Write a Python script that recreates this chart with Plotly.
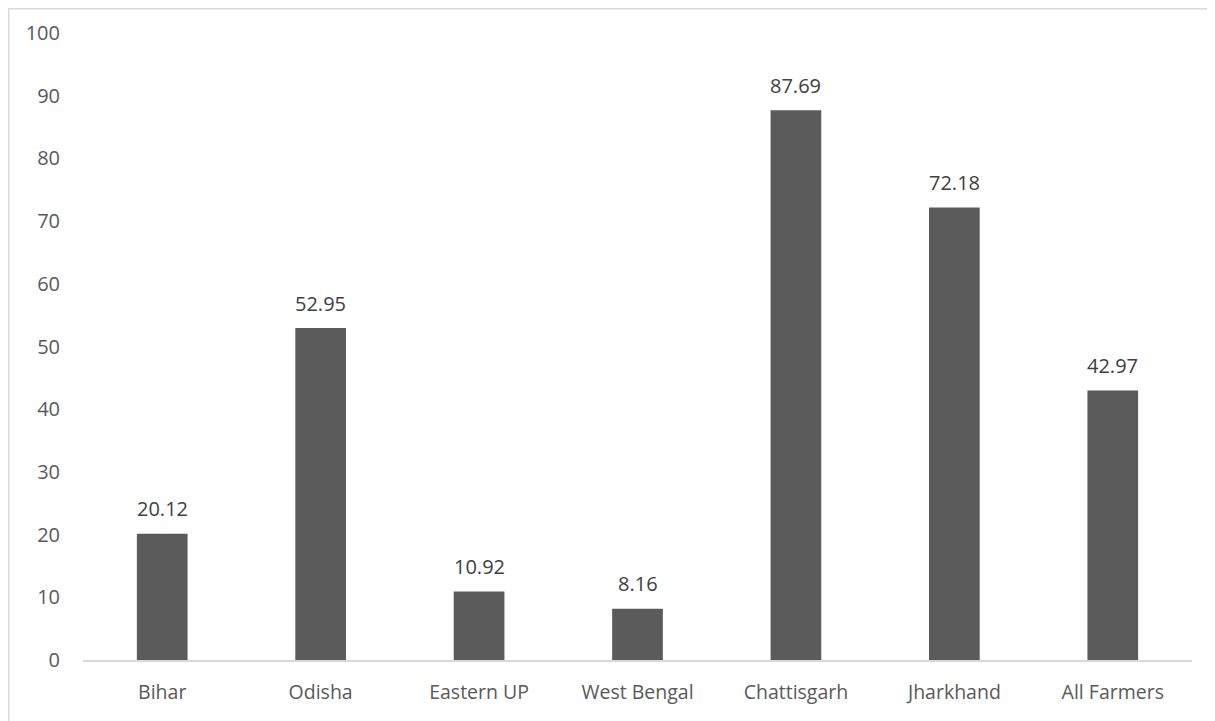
import plotly.graph_objects as go

categories = ["Bihar", "Odisha", "Eastern UP", "West Bengal", "Chattisgarh", "Jharkhand", "All Farmers"]
values = [20.12, 52.95, 10.92, 8.16, 87.69, 72.18, 42.97]
y_ticks = [0, 10, 20, 30, 40, 50, 60, 70, 80, 90, 100]

FONT = "Open Sans"
fig = go.Figure(go.Bar(
    x=categories, y=values,
    marker=dict(color="#5b5b5b", line=dict(width=0)),
    cliponaxis=False,
))

for c, v in zip(categories, values):
    fig.add_annotation(x=c, y=v, text=f"{v:.2f}", showarrow=False,
                       yanchor="middle", yshift=25,
                       font=dict(family=FONT, size=20, color="#404040"))

# page has an 8px body margin; size the figure to fill the rest of the window
W, H = 1207, 713
L, R, T, B = 75, 23, 25, 61
fig.update_layout(
    width=W, height=H,
    margin=dict(l=L, r=R, t=T, b=B),
    paper_bgcolor="white", plot_bgcolor="white",
    bargap=0.68,
    showlegend=False,
    font=dict(family=FONT, color="#595959", size=20),
    xaxis=dict(showgrid=False, showline=True, linecolor="#d9d9d9", linewidth=1.5,
               ticks="", tickfont=dict(size=19.5, color="#595959"), ticklabelstandoff=14),
    yaxis=dict(range=[0, 100], tickvals=y_ticks, showgrid=False, showline=False,
               zeroline=False, ticks="", tickfont=dict(size=20, color="#595959"),
               ticklabelstandoff=22),
    shapes=[dict(type="rect", xref="paper", yref="paper",
                 x0=(0.75 - L) / (W - L - R), x1=(W + 20 - L) / (W - L - R),
                 y0=-(B + 40) / (H - T - B), y1=1 + (T - 0.75) / (H - T - B),
                 line=dict(color="#d9d9d9", width=1.5), fillcolor="rgba(0,0,0,0)", layer="below")],
)
fig.write_html("out.html")
